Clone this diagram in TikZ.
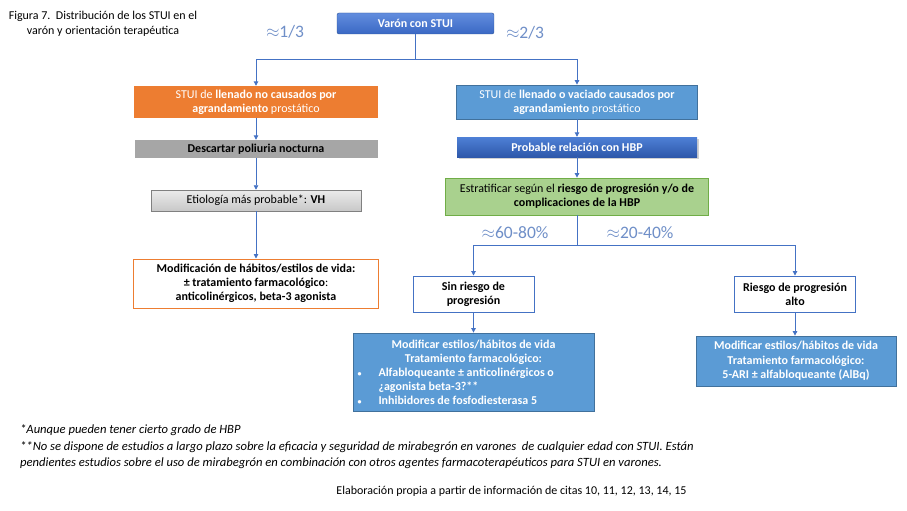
\documentclass[tikz,border=0pt]{standalone}
\usepackage{fontspec}
\setmainfont{Carlito}
\usetikzlibrary{arrows.meta,shadows}
\definecolor{lineblue}{HTML}{4472C4}
\definecolor{boxblue}{HTML}{5B9BD5}
\definecolor{boxblueedge}{HTML}{41719C}
\definecolor{darkblueedge}{HTML}{2F5597}
\definecolor{orangebox}{HTML}{ED7D31}
\definecolor{greybox}{HTML}{A6A6A6}
\definecolor{greenbox}{HTML}{A9D18E}
\definecolor{greenedge}{HTML}{70AD47}
\definecolor{approxblue}{HTML}{6F8FC8}
\begin{document}
\begin{tikzpicture}[x=1pt,y=-1pt]
\tikzset{
  base/.style={font=\fontsize{12}{14}\selectfont, inner sep=0pt, align=center},
  bbase/.style={base, font=\fontsize{12}{14}\selectfont\bfseries},
  conn/.style={draw=lineblue, line width=0.9pt},
  arr/.style={conn, -{Triangle[length=4.5pt,width=4.5pt]}},
  approx/.style={font=\fontsize{17.5}{17.5}\selectfont, text=approxblue, inner sep=0pt},
  note/.style={font=\fontsize{12.6}{14}\selectfont\itshape, anchor=west, inner sep=0pt},
}
\fill[white] (0,0) rectangle (907,511);
\useasboundingbox (0,0) rectangle (907,511);

% title
\node[base, font=\fontsize{12}{15.5}\selectfont] (title) at (103,24) {Figura 7.\ \ Distribución de los STUI en el\\varón y orientación terapéutica};

% top
\node[bbase, minimum width=157pt, minimum height=21pt, rounded corners=2pt,
      top color={rgb,255:red,98;green,141;blue,222}, bottom color={rgb,255:red,58;green,104;blue,196},
      draw=darkblueedge, line width=0.4pt, text=white]
      (top) at (415.5,23.5) {Varón con STUI};

% left column
\node[base, minimum width=244pt, minimum height=32pt, fill=orangebox, text=white]
      (orange) at (256,102) {STUI de \textbf{llenado no causados por}\\\textbf{agrandamiento} prostático};
\node[bbase, minimum width=243pt, minimum height=18pt, fill=greybox, text=black]
      (grey) at (256,149) {Descartar poliuria nocturna};
\node[base, minimum width=210pt, minimum height=21pt, top color={rgb,255:red,235;green,235;blue,235},
      bottom color={rgb,255:red,200;green,200;blue,200}, draw=gray, line width=0.5pt]
      (etio) at (256,200.5) {Etiología más probable*: \textbf{VH}};
\node[base, minimum width=245pt, minimum height=49pt, fill=white, draw=orangebox, line width=1pt]
      (modif) at (256,283.5) {\textbf{Modificación de hábitos/estilos de vida:}\\\textbf{± tratamiento farmacológico}:\\\textbf{anticolinérgicos, beta-3 agonista}};

% right column
\node[base, minimum width=241pt, minimum height=34pt, fill=boxblue, draw=boxblueedge, line width=0.8pt, text=white]
      (blue1) at (577,102) {STUI de \textbf{llenado o vaciado causados por}\\\textbf{agrandamiento} prostático};
\node[bbase, minimum width=240pt, minimum height=20pt,
      top color={rgb,255:red,78;green,128;blue,214}, bottom color={rgb,255:red,46;green,88;blue,170},
      drop shadow={opacity=0.35, shadow xshift=1.5pt, shadow yshift=-1.5pt},
      text=white]
      (prob) at (577,147) {Probable relación con HBP};
\node[base, minimum width=263pt, minimum height=37pt, fill=greenbox, draw=greenedge, line width=0.8pt]
      (green) at (577,196.5) {Estratificar según el \textbf{riesgo de progresión y/o de}\\\textbf{complicaciones de la HBP}};

\node[bbase, minimum width=121pt, minimum height=36pt, fill=white, draw=lineblue, line width=0.9pt]
      (sin) at (473.5,294) {Sin riesgo de\\progresión};
\node[bbase, minimum width=121pt, minimum height=36pt, fill=white, draw=lineblue, line width=0.9pt]
      (alto) at (795,294) {Riesgo de progresión\\alto};

\node[bbase, minimum width=241pt, minimum height=78pt, fill=boxblue, draw=boxblueedge, line width=0.8pt, text=white]
      (big) at (473.5,372) {\parbox{232pt}{\centering Modificar estilos/hábitos de vida\\Tratamiento farmacológico:\par
        \raggedright\makebox[21pt][l]{\fontsize{8}{8}\selectfont•}Alfabloqueante ± anticolinérgicos o\\
        \hspace*{21pt}¿agonista beta-3?**\\
        \makebox[21pt][l]{\fontsize{8}{8}\selectfont•}Inhibidores de fosfodiesterasa 5\par}};
\node[bbase, minimum width=200pt, minimum height=50pt, fill=boxblue, draw=boxblueedge, line width=0.8pt, text=white,
      font=\fontsize{12}{14.5}\selectfont\bfseries]
      (right) at (796,361) {Modificar estilos/hábitos de vida\\Tratamiento farmacológico:\\5-ARI ± alfabloqueante (AlBq)};

% connectors
\coordinate (s1) at (415.5,59);
\coordinate (s2) at (577,245);
\draw[conn] (top.south) -- (s1);
\draw[arr] (s1) -| (orange.north);
\draw[arr] (s1) -| (blue1.north);
\draw[arr] (orange.south) -- (grey.north);
\draw[arr] (grey.south) -- (etio.north);
\draw[arr] (etio.south) -- (modif.north);
\draw[arr] (blue1.south) -- (prob.north);
\draw[arr] (prob.south) -- (green.north);
\draw[conn] (green.south) -- (s2);
\draw[arr] (s2) -| (sin.north);
\draw[arr] (s2) -| (alto.north);
\draw[arr] (sin.south) -- (big.north);
\draw[arr] (alto.south) -- (alto.south |- right.north);

% approx labels
\node[approx] (a13) at (285,32) {$\approx$1/3};
\node[approx] (a23) at (525,33) {$\approx$2/3};
\node[approx] (a68) at (515,233) {$\approx$60-80\%};
\node[approx] (a24) at (640,233) {$\approx$20-40\%};

% notes
\node[note] (n1) at (20,430) {*Aunque pueden tener cierto grado de HBP};
\node[note] (n2) at (20,447) {**No se dispone de estudios a largo plazo sobre la eficacia y seguridad de mirabegrón en varones\ \ de cualquier edad con STUI. Están};
\node[note] (n3) at (20,463) {pendientes estudios sobre el uso de mirabegrón en combinación con otros agentes farmacoterapéuticos para STUI en varones.};
\node[base] (src) at (511.5,491) {Elaboración propia a partir de información de citas 10, 11, 12, 13, 14, 15};
\end{tikzpicture}
\end{document}
